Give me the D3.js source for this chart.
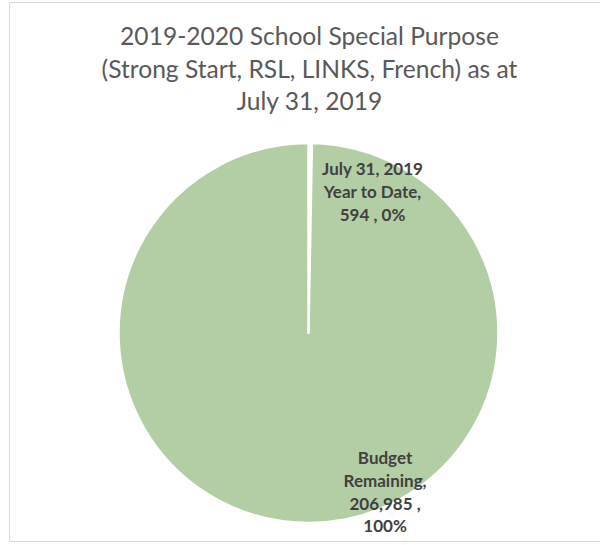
<!DOCTYPE html>
<html>
<head>
<meta charset="utf-8">
<script src="https://cdn.jsdelivr.net/npm/d3@7"></script>
<style>
  html, body { margin: 0; padding: 0; background: #fff; }
  svg { display: block; }
</style>
</head>
<body>
<script>
// ---- data ----
const categories = ["July 31, 2019 Year to Date", "Budget Remaining"];
const values = [594, 206985];
const percentLabels = ["0%", "100%"];
const labelLines = [
  ["July 31, 2019", "Year to Date,", "594 , 0%"],
  ["Budget", "Remaining,", "206,985 ,", "100%"]
];
const titleLines = [
  "2019-2020 School Special Purpose",
  "(Strong Start, RSL, LINKS, French) as at",
  "July 31, 2019"
];
const colors = ["#ffffff", "#b3cea5"];

// ---- layout ----
const W = 600, H = 545;
const svg = d3.select("body").append("svg").attr("width", W).attr("height", H);

svg.append("rect")
  .attr("x", 9.5).attr("y", 2.5)
  .attr("width", W + 20).attr("height", 539)
  .attr("fill", "#fff").attr("stroke", "#d9d9d9").attr("stroke-width", 1);

// title
const titleFont = "Lato, 'Open Sans', sans-serif";
const title = svg.append("g").attr("fill", "#595959")
  .attr("font-family", titleFont).attr("text-anchor", "middle");
const tTexts = title.selectAll("text").data(titleLines).join("text")
  .attr("x", 309.5)
  .attr("y", (d, i) => 45 + i * 32.5)
  .attr("font-size", 24)
  .text(d => d);
// fit to reference width of the second (longest) line
const measured = tTexts.nodes()[1].getComputedTextLength();
const fs = 24 * 416 / measured;
tTexts.attr("font-size", fs);

// pie
const cx = 308.5, cy = 333, r = 190;
const pie = d3.pie().sort(null).value(d => d)(values);
const arc = d3.arc().innerRadius(0).outerRadius(r);
const g = svg.append("g").attr("transform", `translate(${cx},${cy})`);
g.selectAll("path").data(pie).join("path")
  .attr("d", arc)
  .attr("fill", (d, i) => colors[i])
  .attr("stroke", "#fff")
  .attr("stroke-width", 2.5)
  .attr("stroke-linejoin", "round");

// data labels (positioned relative to the pie radius)
const labelAnchors = [
  { dx: 0.337, dy: -0.83 },   // first baseline offsets in radius units
  { dx: 0.403, dy: 0.69 }
];
const lineH = 22.7;
const lab = svg.append("g").attr("font-family", titleFont)
  .attr("font-weight", "bold").attr("fill", "#404040")
  .attr("text-anchor", "middle").attr("font-size", 17);
labelLines.forEach((lines, i) => {
  const a = labelAnchors[i];
  lab.append("g").selectAll("text").data(lines).join("text")
    .attr("x", cx + a.dx * r)
    .attr("y", (d, j) => cy + a.dy * r + j * lineH)
    .text(d => d);
});
</script>
</body>
</html>
